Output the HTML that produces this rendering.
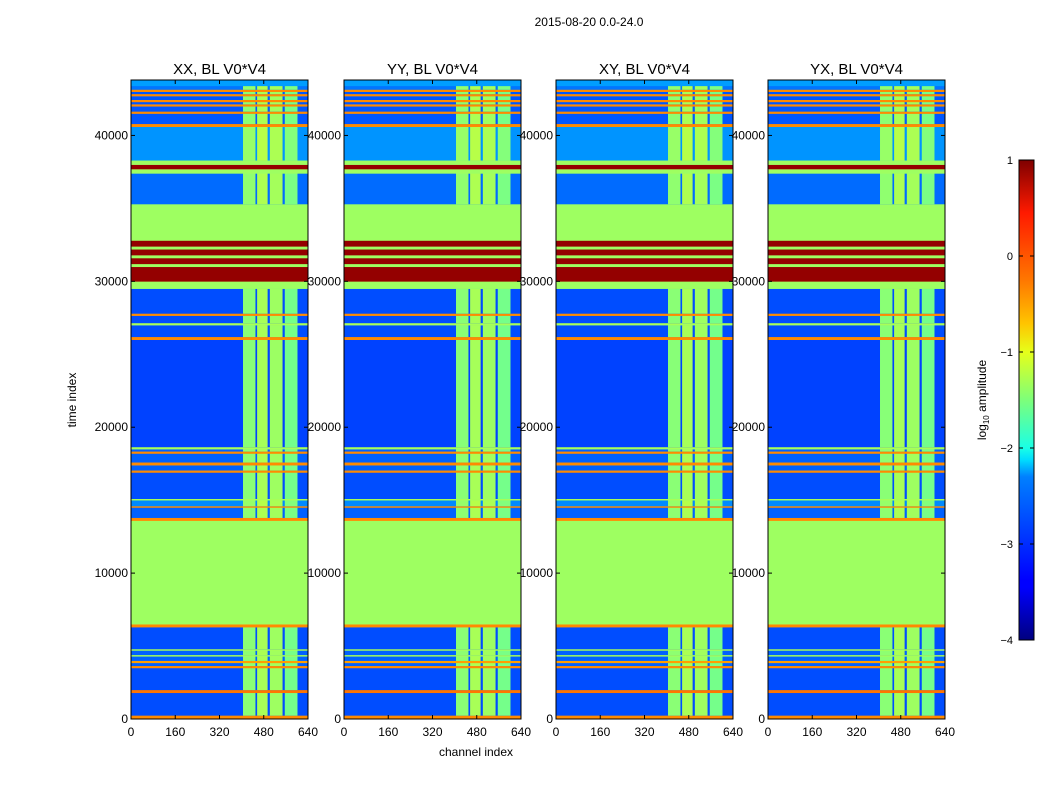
<!DOCTYPE html>
<html><head><meta charset="utf-8"><style>
html,body{margin:0;padding:0;background:#fff;}
svg text{font-family:"Liberation Sans",sans-serif;fill:#000;}
</style></head><body>
<svg id="fig" width="1050" height="800" viewBox="0 0 1050 800" xmlns="http://www.w3.org/2000/svg">
<defs>
<linearGradient id="jet" x1="0" y1="1" x2="0" y2="0">
<stop offset="0" stop-color="#00007f"/><stop offset="0.11" stop-color="#0000ff"/><stop offset="0.125" stop-color="#0000ff"/>
<stop offset="0.34" stop-color="#0080ff"/><stop offset="0.375" stop-color="#00dcfe"/><stop offset="0.4" stop-color="#1affe6"/>
<stop offset="0.5" stop-color="#7dff7a"/><stop offset="0.6" stop-color="#e6ff1a"/><stop offset="0.66" stop-color="#ffc400"/>
<stop offset="0.75" stop-color="#ff7700"/><stop offset="0.89" stop-color="#ff1a00"/><stop offset="1" stop-color="#7f0000"/>
</linearGradient>
</defs>
<text x="589" y="26" font-size="12" text-anchor="middle">2015-08-20 0.0-24.0</text>
<text x="76" y="400" font-size="12" text-anchor="middle" transform="rotate(-90 76 400)">time index</text>
<text x="476" y="756" font-size="12" text-anchor="middle">channel index</text>
<g id="panels"></g>
<g>
<rect x="1019" y="160" width="15" height="480" fill="url(#jet)" stroke="#000" stroke-width="1"/>
<g id="cbticks"></g>
<text x="986" y="400" font-size="12" text-anchor="middle" transform="rotate(-90 986 400)">log<tspan font-size="8" dy="3">10</tspan><tspan dy="-3"> amplitude</tspan></text>
</g>
</svg>
<script>
// time bands: start, end, log10 amplitude, rfi overlay flag
const bandStart=[0,250,1800,2000,3500,3650,3850,4000,4300,4400,4700,4800,6300,6500,13600,13800,14500,14600,15000,15100,16900,17050,17400,17600,18200,18350,18500,18650,26000,26200,27000,27150,27650,27800,29500,30000,31000,31200,31600,31800,32200,32400,32800,35300,37400,37700,38000,38300,40600,40800,41500,41650,42000,42150,42300,42450,42700,42850,43000,43150,43400];
const bandEnd  =[250,1800,2000,3500,3650,3850,4000,4300,4400,4700,4800,6300,6500,13600,13800,14500,14600,15000,15100,16900,17050,17400,17600,18200,18350,18500,18650,26000,26200,27000,27150,27650,27800,29500,30000,31000,31200,31600,31800,32200,32400,32800,35300,37400,37700,38000,38300,40600,40800,41500,41650,42000,42150,42300,42450,42700,42850,43000,43150,43400,43800];
const bandValue=[-0.3,-3.0,-0.2,-3.0,-0.3,-2.9,-0.4,-2.9,-1.3,-2.9,-1.3,-3.0,-0.3,-1.35,-0.3,-2.9,-0.3,-2.7,-1.3,-3.0,-0.3,-2.9,-0.3,-2.9,-0.3,-2.9,-1.3,-3.05,-0.3,-3.0,-1.3,-3.0,-0.3,-3.0,-1.35,0.9,-1.35,0.9,-1.35,0.9,-1.35,0.9,-1.35,-2.85,-1.35,0.9,-1.35,-2.65,-0.3,-2.95,-0.3,-2.95,-0.3,-2.95,-0.3,-2.95,-0.3,-2.95,-0.3,-2.8,-2.6];
const bandRfi  =[0,1,0,1,0,1,0,1,0,1,0,1,0,0,0,1,0,1,0,1,0,1,0,1,0,1,0,1,0,1,0,1,0,1,0,0,0,0,0,0,0,0,0,1,0,0,0,1,0,1,0,1,0,1,0,1,0,1,0,1,0];
// RFI channel stripes
const stripeStart=[405,456,502,556];
const stripeEnd  =[450,494,548,602];
const stripeValue=[-1.45,-1.3,-1.35,-1.55];
const panelTitles=["XX, BL V0*V4","YY, BL V0*V4","XY, BL V0*V4","YX, BL V0*V4"];
const panelLeft=[131,344,556,768];
const xTicks=[0,160,320,480,640];
const yTicks=[0,10000,20000,30000,40000];
const cbTicks=[1,0,-1,-2,-3,-4];
const PW=177,PT=80,PB=719,TMAX=43800,CMAX=640;
const NS="http://www.w3.org/2000/svg";
function jet(v){const x=Math.max(0,Math.min(1,(v+4)/5));const c=t=>Math.round(255*Math.max(0,Math.min(1,1.5-Math.abs(4*x-t))));return `rgb(${c(3)},${c(2)},${c(1)})`;}
function el(tag,attrs,parent){const e=document.createElementNS(NS,tag);for(const k in attrs)e.setAttribute(k,attrs[k]);parent.appendChild(e);return e;}
const yScale=t=>PB-(t/TMAX)*(PB-PT);
const panels=document.getElementById('panels');
panelTitles.forEach((title,p)=>{
  const L=panelLeft[p];const xScale=c=>L+c/CMAX*PW;
  const g=el('g',{},panels);
  
  
  for(let i=0;i<bandStart.length;i++){
    const y1=yScale(bandEnd[i]),y2=yScale(bandStart[i]);
    const r=el('rect',{x:L,y:y1,width:PW,height:(y2-y1)+0.3,fill:jet(bandValue[i])},g);
    
    
    if(bandRfi[i]){
      for(let s=0;s<stripeStart.length;s++){
        const sr=el('rect',{x:xScale(stripeStart[s]),y:y1,width:xScale(stripeEnd[s])-xScale(stripeStart[s]),height:(y2-y1)+0.3,fill:jet(stripeValue[s]+(bandValue[i]+3)*0.2)},g);
        
        
      }
    }
  }
  el('rect',{x:L,y:PT,width:PW,height:PB-PT,fill:'none',stroke:'#000','stroke-width':1},g);
  const t=el('text',{x:L+PW/2,y:74,'font-size':15,'text-anchor':'middle'},g);
  t.textContent=title;
  
  
  xTicks.forEach(v=>{const x=xScale(v);
    el('line',{x1:x,x2:x,y1:PB,y2:PB-4,stroke:'#000'},g);
    el('line',{x1:x,x2:x,y1:PT,y2:PT+4,stroke:'#000'},g);
    const lt=el('text',{x:x,y:PB+17,'font-size':12,'text-anchor':'middle'},g);lt.textContent=v;
    
    });
  yTicks.forEach(v=>{const y=yScale(v);
    el('line',{x1:L,x2:L+4,y1:y,y2:y,stroke:'#000'},g);
    el('line',{x1:L+PW,x2:L+PW-4,y1:y,y2:y,stroke:'#000'},g);
    const lt=el('text',{x:L-3,y:y+4,'font-size':12,'text-anchor':'end'},g);lt.textContent=v;
    
    });
});
const cb=document.getElementById('cbticks');
cbTicks.forEach(v=>{const y=640-(v+4)/5*480;
  el('line',{x1:1019,x2:1023,y1:y,y2:y,stroke:'#000'},cb);
  el('line',{x1:1034,x2:1030,y1:y,y2:y,stroke:'#000'},cb);
  const lt=el('text',{x:1013,y:y+4,'font-size':11,'text-anchor':'end'},cb);lt.textContent=v<0?'\u2212'+(-v):v;
  
  });
</script>
</body></html>
